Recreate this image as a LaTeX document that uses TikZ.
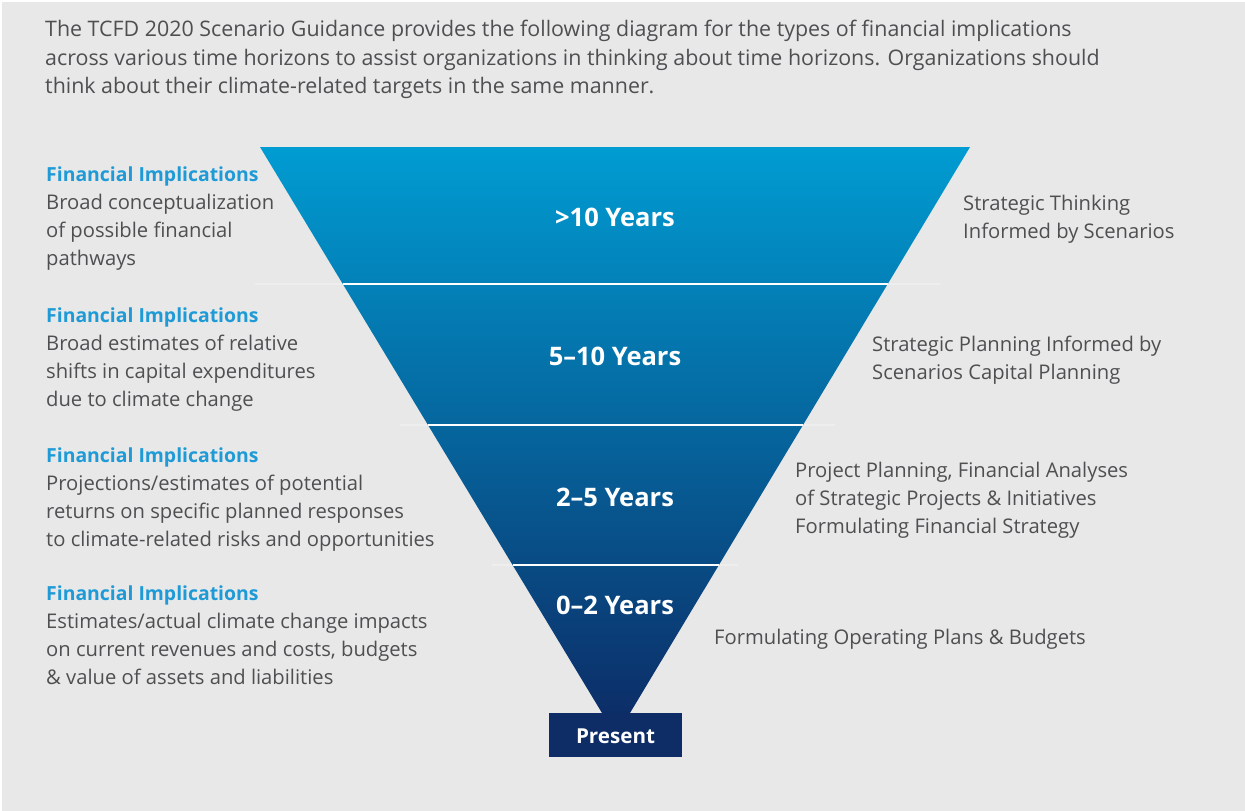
\documentclass[tikz,border=0pt]{standalone}
\usepackage{fontspec}
\setmainfont{Open Sans}
\usetikzlibrary{calc}
\definecolor{panel}{HTML}{E8E8E9}
\definecolor{bodytext}{HTML}{4F4F51}
\definecolor{headblue}{HTML}{1E9AD6}
\definecolor{funneltop}{HTML}{009CD2}
\definecolor{funnelmid}{HTML}{006CA4}
\definecolor{funnelbot}{HTML}{0C2E68}
\definecolor{navy}{HTML}{0E2D66}
\begin{document}
\begin{tikzpicture}[x=1pt,y=-1pt,
  % multi-line nodes are placed by the baseline of their last line
  para/.style={anchor=base west,inner sep=0pt,align=left,text=bodytext,
    font=\fontsize{21.4}{28.5}\selectfont},
  sidetext/.style={anchor=base west,inner sep=0pt,align=left,text=bodytext,
    font=\fontsize{20.2}{28}\selectfont},
  heading/.style={anchor=base west,inner sep=0pt,text=headblue,
    font=\fontsize{19.4}{28}\selectfont\bfseries},
  yearlabel/.style={anchor=base,inner sep=0pt,text=white,
    font=\fontsize{25.5}{30}\selectfont\bfseries},
  divider/.style={white,line width=2.5pt},
  dividerglow/.style={white,opacity=0.3,line width=1.5pt}]

% page and grey panel
\fill[white] (0,0) rectangle (1245,811);
\fill[panel] (2,2) rectangle (1245,811);
\useasboundingbox (0,0) rectangle (1245,811);

% introduction
\node[para] (intro) at (45,93.5) {The TCFD 2020 Scenario Guidance provides the following diagram for the types of financial implications\\
across various time horizons to assist organizations in thinking about time horizons. Organizations should\\
think about their climate-related targets in the same manner.};

% funnel corners
\coordinate (tl) at (260,147);
\coordinate (tr) at (970,147);
\coordinate (bl) at (602,713);
\coordinate (br) at (630,713);

% faint guide lines behind the band boundaries
\draw[dividerglow] (255,284) -- (940,284);
\draw[dividerglow] (400,425) -- (835,425);
\draw[dividerglow] (492,565) -- (738,565);

% funnel body
\shade[top color=funneltop,middle color=funnelmid,bottom color=funnelbot]
  (tl) -- (tr) -- (br) -- (bl) -- cycle;

% band boundaries
\draw[divider] ($(tl)!0.242!(bl)$) coordinate (d1l) -- ($(tr)!0.242!(br)$) coordinate (d1r);
\draw[divider] ($(tl)!0.491!(bl)$) coordinate (d2l) -- ($(tr)!0.491!(br)$) coordinate (d2r);
\draw[divider] ($(tl)!0.7385!(bl)$) coordinate (d3l) -- ($(tr)!0.7385!(br)$) coordinate (d3r);

% horizon labels
\node[yearlabel] (y1) at (615,226) {>10 Years};
\node[yearlabel] (y2) at (615,365) {5–10 Years};
\node[yearlabel] (y3) at (615,506) {2–5 Years};
\node[yearlabel] (y4) at (615,614) {0–2 Years};

% present box
\fill[navy] (549,713) rectangle (682,757);
\node[anchor=base,inner sep=0pt,text=white,font=\fontsize{20.6}{24}\selectfont\bfseries] (present) at (615.5,743) {Present};

% financial implications, left column
\node[heading] (h1) at (46,181) {Financial Implications};
\node[sidetext] (t1) at (46,265) {Broad conceptualization\\of possible financial\\pathways};

\node[heading] (h2) at (46,322) {Financial Implications};
\node[sidetext] (t2) at (46,406) {Broad estimates of relative\\shifts in capital expenditures\\due to climate change};

\node[heading] (h3) at (46,462) {Financial Implications};
\node[sidetext] (t3) at (46,546) {Projections/estimates of potential\\returns on specific planned responses\\to climate-related risks and opportunities};

\node[heading] (h4) at (46,600) {Financial Implications};
\node[sidetext] (t4) at (46,684) {Estimates/actual climate change impacts\\on current revenues and costs, budgets\\\& value of assets and liabilities};

% planning activities, right column
\node[sidetext] (r1) at (963,238) {Strategic Thinking\\Informed by Scenarios};
\node[sidetext] (r2) at (872,379) {Strategic Planning Informed by\\Scenarios Capital Planning};
\node[sidetext] (r3) at (795,533) {Project Planning, Financial Analyses\\of Strategic Projects \& Initiatives\\Formulating Financial Strategy};
\node[sidetext] (r4) at (714,644) {Formulating Operating Plans \& Budgets};

\end{tikzpicture}
\end{document}
